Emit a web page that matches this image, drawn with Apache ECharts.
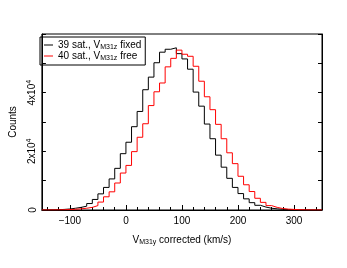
<!DOCTYPE html>
<html><head><meta charset="utf-8">
<script src="https://cdn.jsdelivr.net/npm/echarts@6/dist/echarts.min.js"></script>
<style>html,body{margin:0;padding:0;background:#fff}#c{width:347px;height:268px}</style>
</head><body><div id="c"></div>
<script>
// bin edges (km/s), bin width 10
var binEdges = [-150,-140,-130,-120,-110,-100,-90,-80,-70,-60,-50,-40,-30,-20,-10,0,10,20,30,40,50,60,70,80,90,100,110,120,130,140,150,160,170,180,190,200,210,220,230,240,250,260,270,280,290,300,310,320,330,340,350];
// counts per bin: 39 satellites, V_M31z fixed
var countsFixed = [30,50,100,200,350,600,900,1300,2200,3600,5500,7700,10600,14200,19200,23100,28400,33600,41000,45300,50200,53800,54800,55300,53300,51500,48000,40200,35400,29300,24300,18700,14600,10800,7700,5600,3800,2500,1600,1000,600,400,250,150,80,40,20,10,5,3];
// counts per bin: 40 satellites, V_M31z free
var countsFree = [10,20,40,80,150,250,400,600,900,1500,2700,4500,6200,9200,12600,15200,19900,24800,29400,35600,40300,43300,48800,51700,54500,53100,52400,49000,43900,38600,34200,29200,24300,19500,15800,11500,8600,6300,4000,2600,1500,900,500,300,200,100,50,30,20,10];
var seriesNames = ['39 sat., V_M31z fixed','40 sat., V_M31z free'];
var legendLabels = ['39 sat., V{s|M31z} fixed','40 sat., V{s|M31z} free'];
var xLabelValues = [-100,0,100,200,300];
var xMinorTickValues = [-140,-120,-80,-60,-40,-20,20,40,60,80,120,140,160,180,220,240,260,280,320,340];
var yLabelText = {0:'0', 20000:'2x10{p|4}', 40000:'4x10{p|4}'};

function stepData(counts){
  var d = [];
  for (var i=0;i<counts.length;i++) d.push([binEdges[i], counts[i]]);
  d.push([binEdges[counts.length], counts[counts.length-1]]);
  return d;
}
var FF = 'Liberation Sans, Arial, Helvetica, sans-serif';
var chart = echarts.init(document.getElementById('c'), null, {renderer:'canvas'});
chart.setOption({
  animation:false,
  backgroundColor:'#fff',
  grid:{left:34,right:25,top:34,bottom:58,show:true,borderColor:'#000',borderWidth:1,backgroundColor:'transparent'},
  legend:{
    left:40, top:37, orient:'vertical', padding:[3,4,3,4], itemGap:1,
    itemWidth:9, itemHeight:1, icon:'rect', itemGap:0,
    borderColor:'#000', borderWidth:1, borderRadius:0,
    data:seriesNames,
    formatter:function(n){return legendLabels[seriesNames.indexOf(n)];},
    textStyle:{fontFamily:FF,fontSize:10,color:'#000',
      rich:{s:{fontFamily:FF,fontSize:7,color:'#000',padding:[5,0,0,0]}}}
  },
  xAxis:[{
    type:'value', min:-150, max:350, position:'bottom',
    name:'V{s|M31y} corrected (km/s)', nameLocation:'middle', nameGap:24,
    nameTextStyle:{fontFamily:FF,fontSize:10,color:'#000',
      rich:{s:{fontFamily:FF,fontSize:7,color:'#000',padding:[5,0,0,0]}}},
    axisLine:{show:true,onZero:false,lineStyle:{color:'#000',width:1}},
    axisTick:{show:true,inside:true,length:5,customValues:xLabelValues,lineStyle:{color:'#000'}},
    axisLabel:{show:true,customValues:xLabelValues,margin:6,fontFamily:FF,fontSize:10,color:'#000',
      formatter:function(v){return v<0?'\u2212'+Math.abs(v):String(v);}},
    splitLine:{show:false}
  },{
    type:'value', min:-150, max:350, position:'bottom',
    axisLine:{show:false,onZero:false},
    axisTick:{show:true,inside:true,length:3,customValues:xMinorTickValues,lineStyle:{color:'#000'}},
    axisLabel:{show:false},
    splitLine:{show:false}
  }],
  yAxis:[{
    type:'value', min:0, max:60000, interval:10000, position:'left',
    name:'Counts', nameLocation:'middle', nameGap:19, nameRotate:90,
    nameTextStyle:{fontFamily:FF,fontSize:10,color:'#000'},
    axisLine:{show:true,onZero:false,lineStyle:{color:'#000',width:1}},
    axisTick:{show:true,inside:true,length:4,lineStyle:{color:'#000'}},
    axisLabel:{rotate:90,margin:4,fontFamily:FF,fontSize:10,color:'#000',
      formatter:function(v){return yLabelText[v]||'';},
      rich:{p:{fontFamily:FF,fontSize:7,color:'#000',padding:[0,0,5,0]}}},
    splitLine:{show:false}
  },{
    type:'value', min:0, max:60000, interval:10000, position:'right',
    axisLine:{show:true,onZero:false,lineStyle:{color:'#000',width:1}},
    axisTick:{show:true,inside:true,length:4,lineStyle:{color:'#000'}},
    axisLabel:{show:false},
    splitLine:{show:false}
  }],
  series:[{
    name:seriesNames[0], type:'line', step:'end', data:stepData(countsFixed),
    showSymbol:false, symbol:'none', lineStyle:{color:'#000',width:1}, itemStyle:{color:'#000'}
  },{
    name:seriesNames[1], type:'line', step:'end', data:stepData(countsFree),
    showSymbol:false, symbol:'none', lineStyle:{color:'#ff0000',width:1}, itemStyle:{color:'#ff0000'}
  }]
});
</script></body></html>
